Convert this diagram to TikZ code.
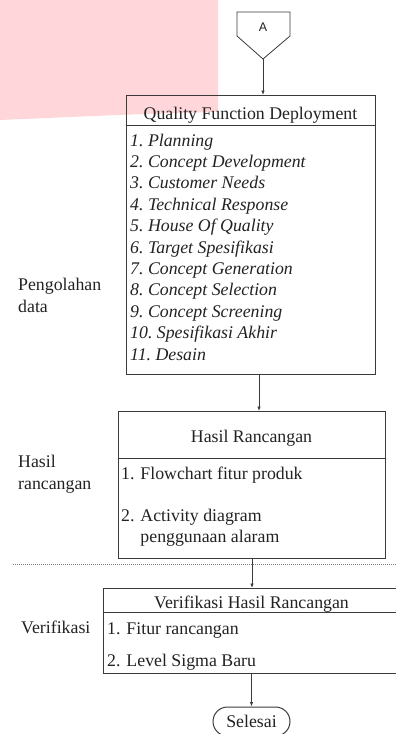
\documentclass[tikz,border=0pt]{standalone}
\usepackage{fontspec}
\setmainfont{Liberation Serif}[ItalicFont={Liberation Serif Italic}, BoldFont={Liberation Serif Bold}]
\newfontfamily\labelsans{Liberation Sans}
\usepackage{tikz}
\usetikzlibrary{arrows.meta, positioning, shapes.misc}
\definecolor{wmpink}{HTML}{FFD6DA}
\definecolor{linegray}{HTML}{3A3A3A}
\definecolor{txtcol}{HTML}{222222}
\newcommand{\txtsize}{\fontsize{17.8}{21.4}\selectfont}

\begin{document}
\begin{tikzpicture}[x=1pt, y=-1pt,
    box/.style={draw=linegray, line width=1pt, anchor=north west, inner sep=0pt},
    txt/.style={font=\txtsize, text=txtcol, inner sep=0pt, anchor=base west},
    ttl/.style={txt, anchor=base},
    side/.style={txt, align=left},
    arr/.style={-{Latex[length=4.5pt,width=3.5pt]}, draw=linegray, line width=0.7pt},
]
    \useasboundingbox (0,0) rectangle (396,734);
    % Watermark
    \fill[wmpink] (0,0) -- (218,0) -- (218,112) .. controls (140,114) .. (0,120) -- cycle;

    % Konektor A
    \draw[linegray, line width=0.8pt] (237,12) -- (290,12) -- (290,36) -- (263,59) -- (237,36) -- cycle;
    \node[font=\labelsans\fontsize{12.5}{14}\selectfont, text=txtcol, inner sep=0pt, anchor=base] (A) at (263,31) {A};
    \coordinate (Atip) at (263,59);

    % Quality Function Deployment
    \node[box, minimum width=249pt, minimum height=30pt] (qfdh) at (126,95) {};
    \node[box, minimum width=249pt, minimum height=249pt] (qfdb) at (126,125) {};
    \node[ttl] (qfdt) at (250.5,119) {Quality Function Deployment};
    \foreach \qname [count=\i] in {Planning,Concept Development,Customer Needs,Technical Response,House Of Quality,Target Spesifikasi,Concept Generation,Concept Selection,Concept Screening,Spesifikasi Akhir,Desain}
        \node[txt, font=\txtsize\itshape] (q\i) at (130,{146+21.4*(\i-1)}) {\i.~\qname};
    \node[side] (lblolah) at (18,312) {Pengolahan\\data};

    % Hasil rancangan
    \node[box, minimum width=267pt, minimum height=47pt] (hasilh) at (118,411) {};
    \node[box, minimum width=267pt, minimum height=100pt] (hasilb) at (118,458) {};
    \node[ttl] (hasilt) at (251.5,442) {Hasil Rancangan};
    \node[txt] (h1) at (121,479) {1. Flowchart fitur produk};
    \node[txt, font=\fontsize{17.8}{20.5}\selectfont, align=left] (h2) at (121,542) {2. Activity diagram\\\phantom{2. }penggunaan alaram};
    \node[side] (lblhasil) at (18,489) {Hasil\\rancangan};

    % Batas tahap
    \draw[gray, line width=0.6pt, dash pattern=on 1.2pt off 0.8pt] (13,564) -- (396,564);

    % Verifikasi
    \node[box, minimum width=297pt, minimum height=24pt] (verifh) at (103,588) {};
    \node[box, minimum width=297pt, minimum height=61pt] (verifb) at (103,612) {};
    \node[ttl] (veriftt) at (251.5,608) {Verifikasi Hasil Rancangan};
    \node[txt] (v1) at (107,634) {1. Fitur rancangan};
    \node[txt] (v2) at (107,666) {2. Level Sigma Baru};
    \node[txt] (lblverif) at (21,633) {Verifikasi};

    % Selesai
    \node[draw=linegray, line width=1pt, rounded rectangle, minimum width=77pt, minimum height=29pt, font=\txtsize, text=txtcol, inner sep=0pt] (end) at (251.5,721.5) {Selesai};

    % Alur
    \draw[arr] (Atip) -- (Atip |- qfdh.north);
    \draw[arr] ([xshift=8pt]qfdb.south) -- ([xshift=8pt]qfdb.south |- hasilh.north);
    \draw[arr] (hasilb.south) -- (hasilb.south |- verifh.north);
    \draw[arr] (verifb.south -| end.north) -- (end.north);
\end{tikzpicture}
\end{document}
